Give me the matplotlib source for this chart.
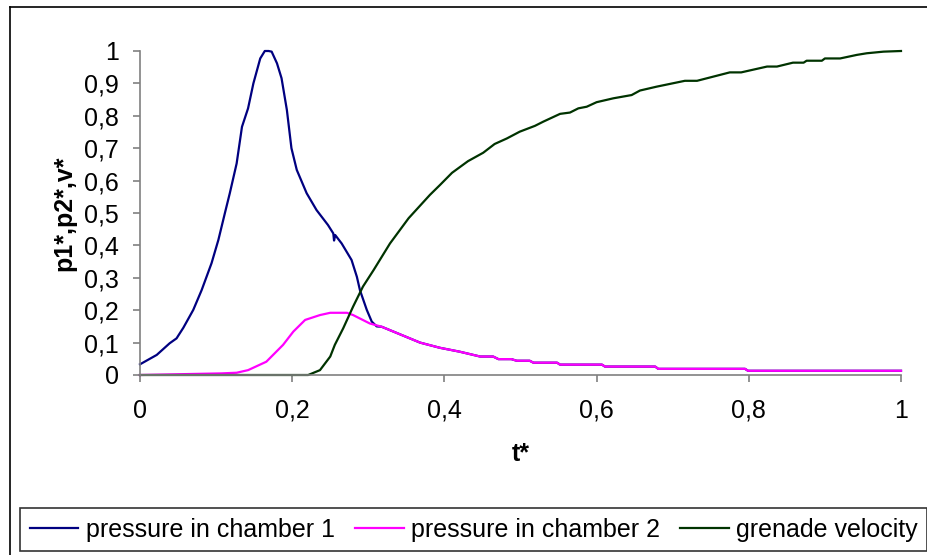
import numpy as np
import matplotlib
matplotlib.use("Agg")
import matplotlib.pyplot as plt
from matplotlib.lines import Line2D

plt.rcParams['font.family'] = ['Liberation Sans', 'DejaVu Sans']

# pressure in chamber 1 (rise, peak, fall until it meets chamber 2)
t1 = [0.0, 0.022, 0.039, 0.048, 0.057, 0.070, 0.081, 0.094, 0.103, 0.112,
      0.118, 0.127, 0.134, 0.142, 0.149, 0.158, 0.164, 0.169, 0.173, 0.180,
      0.186, 0.193, 0.199, 0.206, 0.219, 0.232, 0.247, 0.254, 0.255, 0.2565,
      0.265, 0.278, 0.285, 0.289, 0.298, 0.3045, 0.311, 0.3175]
p1 = [0.033, 0.062, 0.098, 0.113, 0.146, 0.201, 0.262, 0.345, 0.417, 0.504,
      0.561, 0.653, 0.766, 0.823, 0.900, 0.977, 1.0, 1.0, 0.998, 0.962,
      0.916, 0.818, 0.700, 0.633, 0.561, 0.509, 0.463, 0.437, 0.415, 0.432,
      0.406, 0.355, 0.303, 0.262, 0.201, 0.165, 0.150, 0.149]

# pressure in chamber 2
t2 = [0.0, 0.107, 0.127, 0.142, 0.166, 0.188, 0.2015, 0.217, 0.2365, 0.250,
      0.272, 0.280, 0.302, 0.3175, 0.333, 0.368, 0.394, 0.42, 0.447, 0.464,
      0.471, 0.488, 0.495, 0.512, 0.517, 0.548, 0.552, 0.607, 0.611, 0.677,
      0.681, 0.795, 0.799, 1.0]
p2 = [0.0, 0.005, 0.007, 0.015, 0.041, 0.093, 0.134, 0.170, 0.185, 0.192,
      0.192, 0.185, 0.159, 0.149, 0.134, 0.100, 0.084, 0.072, 0.057, 0.057,
      0.049, 0.049, 0.044, 0.044, 0.038, 0.038, 0.032, 0.032, 0.026, 0.026,
      0.019, 0.019, 0.013, 0.013]

# grenade velocity
t3 = [0.0, 0.221, 0.2365, 0.250, 0.256, 0.267, 0.280, 0.293, 0.307, 0.3285,
      0.353, 0.381, 0.394, 0.41, 0.431, 0.451, 0.466, 0.482, 0.499, 0.519,
      0.530, 0.552, 0.565, 0.576, 0.587, 0.600, 0.622, 0.646, 0.657, 0.679,
      0.716, 0.732, 0.775, 0.79, 0.824, 0.837, 0.858, 0.872, 0.876, 0.896,
      0.900, 0.920, 0.942, 0.955, 0.977, 1.0]
v = [0.0, 0.0, 0.015, 0.057, 0.093, 0.144, 0.211, 0.273, 0.324, 0.406,
     0.484, 0.556, 0.586, 0.624, 0.660, 0.686, 0.713, 0.730, 0.751, 0.769,
     0.782, 0.806, 0.810, 0.823, 0.828, 0.842, 0.854, 0.864, 0.878, 0.890,
     0.908, 0.908, 0.934, 0.934, 0.952, 0.952, 0.964, 0.964, 0.970, 0.970,
     0.977, 0.977, 0.988, 0.993, 0.998, 1.0]

labels = ["pressure in chamber 1", "pressure in chamber 2", "grenade velocity"]
colors = ["#000080", "#FF00FF", "#003300"]

# after the pressures equalise chamber 1 follows chamber 2
t2a, p2a = np.array(t2), np.array(p2)
tail = t2a > t1[-1]
t1_full = np.concatenate([t1, t2a[tail]])
p1_full = np.concatenate([p1, p2a[tail]])

fig = plt.figure(figsize=(9.27, 5.55), dpi=100)
ax = fig.add_axes([140/927, 1-375/555, 761/927, 324/555])

l1, = ax.plot(t1_full, p1_full, color=colors[0], lw=1.6, clip_on=False)
l2, = ax.plot(t2, p2, color=colors[1], lw=1.6, clip_on=False)
l3, = ax.plot(t3, v, color=colors[2], lw=1.6, clip_on=False)

ax.set_xlim(0, 1)
ax.set_ylim(0, 1)
xt = np.round(np.arange(0, 1.01, 0.2), 1)
yt = np.round(np.arange(0, 1.01, 0.1), 1)
ax.set_xticks(xt)
ax.set_yticks(yt)
fmt = lambda x: "0" if x == 0 else ("1" if x == 1 else f"{x:g}".replace(".", ","))
ax.set_xticklabels([fmt(x) for x in xt])
ax.set_yticklabels([fmt(y) for y in yt])

for s in ["top", "right"]:
    ax.spines[s].set_visible(False)
for s in ["left", "bottom"]:
    ax.spines[s].set_color("#808080")
    ax.spines[s].set_linewidth(1.2)
ax.tick_params(direction="out", length=5, width=1.2, color="#808080",
               labelsize=18)
ax.tick_params(axis="y", pad=10)
ax.tick_params(axis="x", pad=12)

ax.set_xlabel("t*", fontsize=18, fontweight="bold", labelpad=14)
ax.set_ylabel("p1*,p2*,v*", fontsize=18, fontweight="bold", labelpad=6)

# chart border
fig.add_artist(Line2D([10/927, 10/927], [0, 1-7/555], color="black", lw=1.2,
                      transform=fig.transFigure))
fig.add_artist(Line2D([10/927, 1], [1-7/555, 1-7/555], color="black", lw=1.2,
                      transform=fig.transFigure))

leg = fig.legend([l1, l2, l3], labels, loc="upper left",
                 bbox_to_anchor=(20/927, 1-508/555), ncol=3, fontsize=18,
                 frameon=True, fancybox=False, edgecolor="black",
                 handlelength=1.95, handletextpad=0.3, columnspacing=0.8,
                 borderpad=0.38, borderaxespad=0)
leg.get_frame().set_linewidth(1.2)

fig.savefig("out.png", dpi=100)
